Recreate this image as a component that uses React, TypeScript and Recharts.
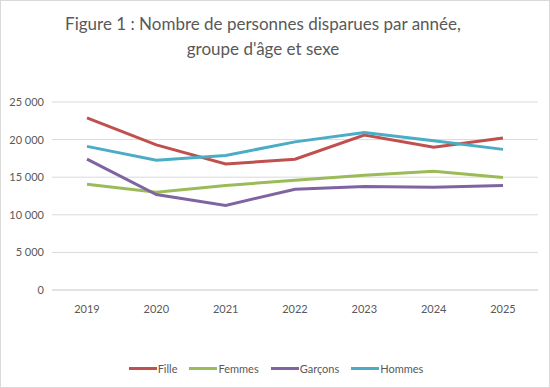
import { CartesianGrid, Line, LineChart, XAxis, YAxis } from "recharts";

const YEARS = ["2019", "2020", "2021", "2022", "2023", "2024", "2025"];
const FILLE = [22900, 19300, 16750, 17400, 20600, 19000, 20200];
const FEMMES = [14050, 13000, 13900, 14600, 15250, 15800, 14950];
const GARCONS = [17400, 12700, 11250, 13400, 13750, 13650, 13900];
const HOMMES = [19100, 17250, 17900, 19700, 20950, 19850, 18700];
const Y_TICKS = [0, 5000, 10000, 15000, 20000, 25000];

const SERIES = [
  { key: "fille", name: "Fille", color: "#C0504D", values: FILLE },
  { key: "femmes", name: "Femmes", color: "#9BBB59", values: FEMMES },
  { key: "garcons", name: "Garçons", color: "#8064A2", values: GARCONS },
  { key: "hommes", name: "Hommes", color: "#4BACC6", values: HOMMES },
];

const data = YEARS.map((year, i) => {
  const row: Record<string, string | number> = { year };
  SERIES.forEach((s) => {
    row[s.key] = s.values[i];
  });
  return row;
});

const FONT = "Lato, 'Open Sans', sans-serif";
const TEXT = "#595959";

function formatThousands(v: number) {
  return String(v).replace(/\B(?=(\d{3})+(?!\d))/g, " ");
}

export default function App() {
  return (
    <div
      style={{
        position: "absolute",
        left: 0,
        top: 0,
        width: 550,
        height: 388,
        boxSizing: "border-box",
        border: "1px solid #D9D9D9",
        background: "#fff",
        fontFamily: FONT,
      }}
    >
      <div
        style={{
          position: "absolute",
          left: 0,
          top: 10,
          width: 524,
          textAlign: "center",
          fontSize: 17,
          lineHeight: "25px",
          color: TEXT,
        }}
      >
        Figure 1 : Nombre de personnes disparues par année,
        <br />
        groupe d'âge et sexe
      </div>
      <div style={{ position: "absolute", left: -1, top: -1 }}>
        <LineChart width={550} height={388} data={data} margin={{ top: 102, right: 12, bottom: 68, left: 0 }}>
          <CartesianGrid stroke="#D9D9D9" vertical={false} />
          <XAxis
            dataKey="year"
            height={30}
            padding={{ left: 35, right: 35 }}
            axisLine={{ stroke: "#D9D9D9" }}
            tickLine={false}
            tick={{ fill: TEXT, fontSize: 11, fontFamily: FONT }}
            tickMargin={9}
          />
          <YAxis
            domain={[0, 25000]}
            ticks={Y_TICKS}
            width={52}
            axisLine={false}
            tickLine={false}
            tick={{ fill: TEXT, fontSize: 11, fontFamily: FONT }}
            tickFormatter={formatThousands}
            tickMargin={2}
          />
          {SERIES.map((s) => (
            <Line
              key={s.key}
              dataKey={s.key}
              name={s.name}
              stroke={s.color}
              strokeWidth={3}
              dot={false}
              activeDot={false}
              type="linear"
              isAnimationActive={false}
            />
          ))}
        </LineChart>
      </div>
      <div
        style={{
          position: "absolute",
          top: 361,
          left: 0,
          width: 550,
          display: "flex",
          justifyContent: "center",
          gap: 8,
          paddingLeft: 4,
          boxSizing: "border-box",
          fontSize: 11,
          color: TEXT,
        }}
      >
        {SERIES.map((s) => (
          <div key={s.key} style={{ display: "flex", alignItems: "center", marginRight: 4 }}>
            <span style={{ display: "inline-block", width: 28, height: 3, background: s.color, marginRight: 1 }} />
            <span>{s.name}</span>
          </div>
        ))}
      </div>
    </div>
  );
}
